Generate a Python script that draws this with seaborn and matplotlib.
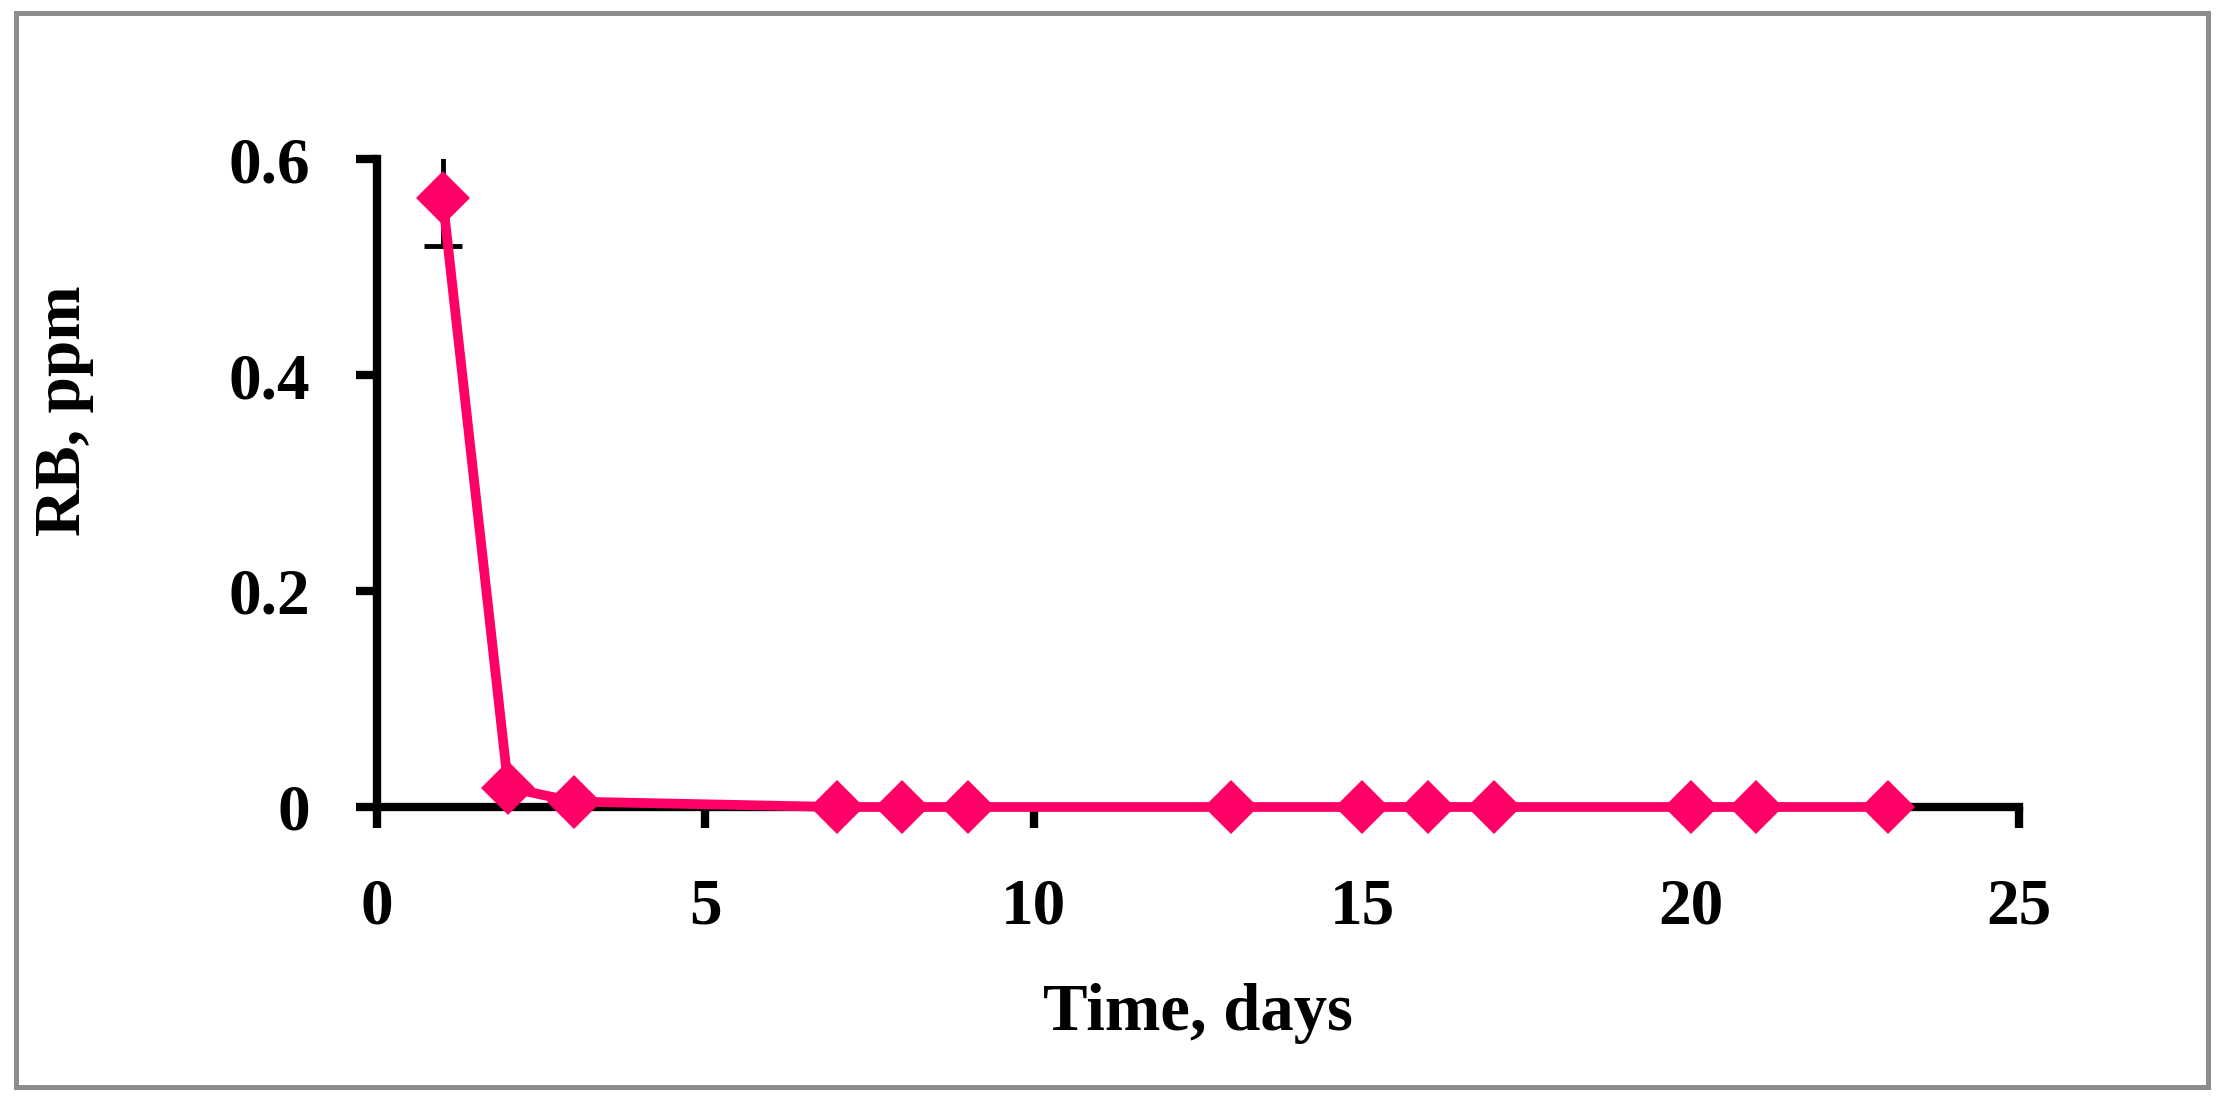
import numpy as np
import pandas as pd
import seaborn as sns
import matplotlib.pyplot as plt
from matplotlib.patches import Rectangle

days = [1, 2, 3, 7, 8, 9, 13, 15, 16, 17, 20, 21, 23]
rb_ppm = [0.564, 0.018, 0.005, 0.0, 0.0, 0.0, 0.0, 0.0, 0.0, 0.0, 0.0, 0.0, 0.0]
first_err = 0.045

x_ticks = [0, 5, 10, 15, 20, 25]
y_ticks = [0, 0.2, 0.4, 0.6]
y_tick_labels = ['0', '0.2', '0.4', '0.6']

pink = '#ff0066'

sns.set_theme(style='white')
plt.rcParams['font.family'] = ['Liberation Serif', 'DejaVu Serif']
plt.rcParams['font.weight'] = 'bold'
plt.rcParams['text.color'] = 'black'
plt.rcParams['axes.labelcolor'] = 'black'
plt.rcParams['xtick.color'] = 'black'
plt.rcParams['ytick.color'] = 'black'

fig = plt.figure(figsize=(22.29, 11.05), dpi=100)
ax = fig.add_axes([0.1691, 0.2697, 0.9058 - 0.1691, 0.8561 - 0.2697])

df = pd.DataFrame({'day': days, 'rb': rb_ppm})

# error bar on the first point, clipped at the top of the axes
ax.errorbar(days[0], rb_ppm[0], yerr=first_err, color='black', lw=3.5,
            capsize=14, capthick=3.5, zorder=2)

sns.lineplot(data=df, x='day', y='rb', ax=ax, color=pink, lw=7,
             marker='D', markersize=28, markeredgewidth=0,
             clip_on=False, zorder=3)

ax.set_xlim(0, 25)
ax.set_ylim(0, 0.6)
ax.set_xticks(x_ticks)
ax.set_yticks(y_ticks)
ax.set_yticklabels(y_tick_labels)

for s in ['top', 'right']:
    ax.spines[s].set_visible(False)
for s in ['left', 'bottom']:
    ax.spines[s].set_linewidth(6)
    ax.spines[s].set_color('black')
    ax.spines[s].set_zorder(1)

ax.tick_params(axis='both', direction='out', length=15, width=6, color='black',
               labelcolor='black', labelsize=47, left=True, bottom=True)
ax.tick_params(axis='x', pad=36)
ax.tick_params(axis='y', pad=33)
for lab in ax.get_xticklabels() + ax.get_yticklabels():
    lab.set_fontweight('bold')

ax.set_xlabel('Time, days', fontsize=48, fontweight='bold', color='black')
ax.set_ylabel('RB, ppm', fontsize=47, fontweight='bold', color='black')
ax.xaxis.set_label_coords(0.5, -0.272)
ax.yaxis.set_label_coords(-0.172, 0.612)
ax.patch.set_alpha(0)

# grey outer frame
frame = Rectangle((16 / 2229, 1 - 1087 / 1105), (2208 - 16) / 2229, (1087 - 13) / 1105,
                  transform=fig.transFigure, fill=False, edgecolor='#8c8c8c', lw=3.6)
fig.patches.append(frame)

fig.savefig('out.png', dpi=100, facecolor='white')
